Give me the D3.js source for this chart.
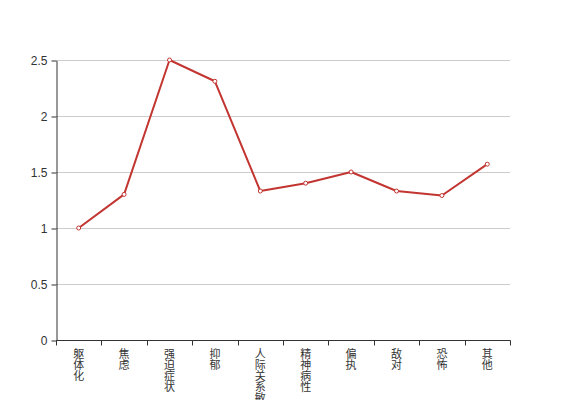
<!DOCTYPE html>
<html>
<head>
<meta charset="utf-8">
<script src="https://d3js.org/d3.v7.min.js"></script>
<style>
  body { margin: 0; background: #fff; }
  text { font-family: "Liberation Sans", "Noto Sans CJK SC", sans-serif; fill: #333; }
</style>
</head>
<body>
<svg id="chart" width="567" height="400"></svg>
<script>
  var categories = ["躯体化", "焦虑", "强迫症状", "抑郁", "人际关系敏感", "精神病性", "偏执", "敌对", "恐怖", "其他"];
  var values = [1.0, 1.3, 2.5, 2.31, 1.33, 1.4, 1.5, 1.33, 1.29, 1.57];
  var yTicks = [0, 0.5, 1, 1.5, 2, 2.5];

  var svg = d3.select("#chart"),
      plotLeft = 56, plotRight = 510, plotTop = 60, plotBottom = 340;

  var x = d3.scaleBand().domain(categories).range([plotLeft, plotRight]);
  var y = d3.scaleLinear().domain([0, 2.5]).range([plotBottom, plotTop]);

  // grid lines
  svg.append("g").selectAll("line")
    .data(yTicks.filter(function (d) { return d > 0; }))
    .enter().append("line")
    .attr("x1", plotLeft).attr("x2", plotRight)
    .attr("y1", function (d) { return y(d) + 0.5; })
    .attr("y2", function (d) { return y(d) + 0.5; })
    .attr("stroke", "#ccc");

  // y axis
  var yAxis = svg.append("g")
    .attr("transform", "translate(" + (plotLeft + 0.5) + ",0.5)")
    .call(d3.axisLeft(y).tickValues(yTicks).tickSize(5).tickSizeOuter(0).tickPadding(4).tickFormat(d3.format("")));
  yAxis.select(".domain").attr("stroke", "#333");
  yAxis.selectAll(".tick line").attr("stroke", "#333");
  yAxis.selectAll("text").attr("font-size", 12).attr("fill", "#333")
    .attr("font-family", "Liberation Sans, sans-serif");

  // x axis
  var xAxis = svg.append("g").attr("transform", "translate(0," + (plotBottom + 0.5) + ")");
  xAxis.append("line")
    .attr("x1", plotLeft).attr("x2", plotRight + 0.5)
    .attr("stroke", "#333");
  var bounds = categories.map(function (c) { return x(c); }).concat([plotRight]);
  xAxis.selectAll(".tk").data(bounds).enter().append("line")
    .attr("class", "tk")
    .attr("x1", function (d) { return Math.round(d) + 0.5; })
    .attr("x2", function (d) { return Math.round(d) + 0.5; })
    .attr("y1", 0).attr("y2", 5)
    .attr("stroke", "#333");

  // vertical category labels
  var lbl = xAxis.selectAll(".lbl").data(categories).enter().append("text")
    .attr("class", "lbl")
    .attr("font-size", 11)
    .attr("text-anchor", "middle")
    .attr("font-family", "Noto Sans CJK SC, sans-serif");
  lbl.each(function (c) {
    var t = d3.select(this);
    c.split("").forEach(function (ch, i) {
      t.append("tspan")
        .attr("x", x(c) + x.bandwidth() / 2)
        .attr("y", 17 + i * 11)
        .text(ch);
    });
  });

  // line
  var line = d3.line()
    .x(function (d, i) { return x(categories[i]) + x.bandwidth() / 2; })
    .y(function (d) { return y(d); });

  svg.append("path")
    .datum(values)
    .attr("d", line)
    .attr("fill", "none")
    .attr("stroke", "#c23531")
    .attr("stroke-width", 2)
    .attr("stroke-linejoin", "round");

  svg.append("g").selectAll("circle")
    .data(values)
    .enter().append("circle")
    .attr("cx", function (d, i) { return x(categories[i]) + x.bandwidth() / 2; })
    .attr("cy", function (d) { return y(d); })
    .attr("r", 2)
    .attr("fill", "#fff")
    .attr("stroke", "#c23531")
    .attr("stroke-width", 1);
</script>
</body>
</html>
